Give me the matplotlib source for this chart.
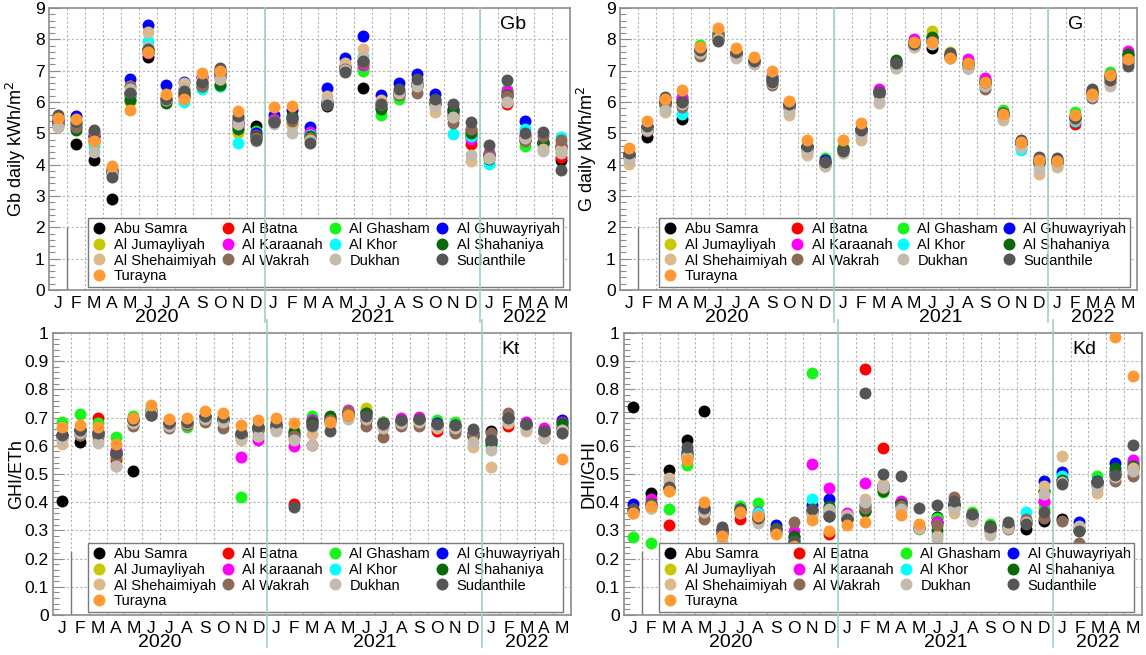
import numpy as np
import matplotlib
matplotlib.use('Agg')
import matplotlib.pyplot as plt
from matplotlib import transforms

nan = float('nan')

stations = ['Abu Samra', 'Al Batna', 'Al Ghasham', 'Al Ghuwayriyah', 'Al Jumayliyah',
            'Al Karaanah', 'Al Khor', 'Al Shahaniya', 'Al Shehaimiyah', 'Al Wakrah',
            'Dukhan', 'Sudanthile', 'Turayna']
colors = ['#000000', '#ff0000', '#18f518', '#0000ff', '#c8c800', '#ff00ff', '#00ffff',
          '#0a6a0a', '#deb887', '#8b6a58', '#c4bbae', '#555555', '#ff9933']

month_labels = ['J', 'F', 'M', 'A', 'M', 'J', 'J', 'A', 'S', 'O', 'N', 'D'] * 2 + ['J', 'F', 'M', 'A', 'M']
year_labels = ['2020', '2021', '2022']
year_centers = [5.5, 17.5, 26.0]
year_bounds = [11.5, 23.5]

# rows = months Jan 2020 .. May 2022, columns = stations (order above)
gb_by_month = [
    [5.4, 5.35, 5.3, 5.5, 5.3, 5.35, 5.3, 5.3, 5.2, 5.4, 5.2, 5.6, 5.5],
    [4.65, 5.3, 5.2, 5.55, 5.25, 5.3, 5.3, 5.1, 5.3, 5.2, 5.35, 5.35, 5.45],
    [4.15, 4.9, 4.7, 4.9, 4.75, 4.95, 4.6, 4.8, 4.75, 5.05, 4.42, 5.1, 4.75],
    [2.9, 3.8, 3.8, 3.85, 3.8, 3.8, 3.75, 3.75, 3.85, 3.8, 3.7, 3.6, 3.95],
    [6.3, 6.2, 6.1, 6.75, 6.0, 6.3, 6.2, 6.05, 6.5, 6.5, 6.4, 6.3, 5.75],
    [7.45, 7.6, 7.65, 8.45, 7.7, 7.55, 7.95, 7.7, 8.25, 7.6, 7.75, 7.7, 7.6],
    [6.1, 6.1, 6.0, 6.55, 6.1, 6.1, 6.1, 5.98, 6.2, 6.1, 6.05, 6.1, 6.25],
    [6.3, 6.2, 6.2, 6.65, 6.3, 6.2, 6.0, 6.3, 6.6, 6.4, 6.4, 6.35, 6.1],
    [6.6, 6.6, 6.45, 6.8, 6.6, 6.8, 6.4, 6.5, 6.7, 6.5, 6.7, 6.65, 6.92],
    [6.9, 6.8, 6.5, 7.0, 6.6, 6.8, 6.5, 6.55, 6.75, 6.9, 6.75, 7.1, 7.0],
    [5.3, 5.2, 5.1, 5.4, 5.0, 5.3, 4.7, 5.15, 5.45, 5.5, 5.3, 5.55, 5.7],
    [5.23, 4.9, 5.07, 5.0, 4.9, 4.95, 4.85, 4.9, 4.8, 4.85, 4.74, 4.8, nan],
    [5.4, 5.4, 5.4, 5.6, 5.4, 5.45, 5.4, 5.4, 5.35, 5.4, 5.3, 5.35, 5.85],
    [5.5, 5.5, 5.5, 5.75, 5.3, 5.5, 5.5, 5.55, 5.25, 5.4, 5.0, 5.5, 5.87],
    [4.9, 4.95, 4.95, 5.2, 4.9, 5.04, 4.95, 4.9, 4.8, 4.85, 4.8, 4.69, nan],
    [5.86, 5.95, 6.0, 6.46, 6.05, 6.0, 6.0, 5.95, 6.2, 6.0, 6.05, 5.92, nan],
    [7.05, 7.1, 7.14, 7.42, 7.1, 7.14, 7.1, 7.1, 7.25, 7.05, 7.03, 6.96, nan],
    [6.46, 7.1, 7.0, 8.1, 7.3, 7.18, 7.47, 7.31, 7.69, 7.25, 7.4, 7.3, nan],
    [5.85, 5.8, 5.58, 6.22, 5.9, 5.9, 5.85, 5.78, 6.05, 5.94, 5.95, 5.95, nan],
    [6.3, 6.2, 6.11, 6.6, 6.3, 6.3, 6.25, 6.3, 6.35, 6.22, 6.3, 6.43, nan],
    [6.6, 6.55, 6.5, 6.9, 6.54, 6.6, 6.5, 6.5, 6.6, 6.3, 6.5, 6.74, nan],
    [6.0, 6.0, 6.0, 6.25, 6.0, 6.05, 6.0, 5.95, 5.67, 5.95, 5.83, 6.11, nan],
    [5.78, 5.5, 5.6, 5.7, 5.6, 5.62, 4.99, 5.72, 5.5, 5.34, 5.51, 5.94, nan],
    [4.9, 4.67, 5.0, 5.1, 4.9, 4.82, 4.9, 5.0, 4.12, 5.13, 4.31, 5.37, nan],
    [4.3, 4.3, 4.36, 4.3, 4.3, 4.36, 4.03, 4.17, 4.2, 4.3, 4.2, 4.63, nan],
    [6.2, 5.94, 6.43, 6.3, 6.3, 6.35, 6.2, 6.22, 6.1, 6.2, 6.0, 6.71, nan],
    [4.8, 4.9, 4.58, 5.38, 4.85, 4.9, 5.15, 4.8, 4.8, 4.74, 4.85, 5.02, nan],
    [4.7, 4.7, 4.65, 4.71, 4.7, 4.75, 4.58, 4.7, 4.5, 4.91, 4.45, 5.04, nan],
    [4.14, 4.25, 4.4, 4.6, 4.7, 4.6, 4.89, 4.53, 4.5, 4.8, 4.36, 3.84, nan],
]

g_by_month = [
    [4.3, 4.3, 4.35, 4.35, 4.3, 4.3, 4.3, 4.3, 4.03, 4.25, 4.15, 4.36, 4.53],
    [4.89, 5.2, 5.2, 5.25, 5.15, 5.2, 5.15, 5.15, 5.1, 5.07, 5.1, 5.23, 5.4],
    [6.0, 6.0, 5.9, 6.0, 5.9, 6.1, 5.85, 5.95, 5.67, 5.94, 5.75, 6.17, 6.1],
    [5.47, 6.0, 6.1, 6.1, 6.1, 6.16, 5.62, 6.0, 5.9, 5.83, 5.95, 6.0, 6.38],
    [7.6, 7.65, 7.82, 7.7, 7.6, 7.65, 7.6, 7.65, 7.5, 7.47, 7.55, 7.65, 7.74],
    [8.0, 8.1, 8.25, 8.2, 8.2, 8.15, 8.1, 8.1, 8.05, 8.0, 8.0, 7.96, 8.36],
    [7.55, 7.55, 7.6, 7.6, 7.6, 7.55, 7.5, 7.55, 7.45, 7.5, 7.42, 7.58, 7.71],
    [7.3, 7.3, 7.35, 7.35, 7.35, 7.3, 7.3, 7.3, 7.2, 7.25, 7.2, 7.3, 7.44],
    [6.7, 6.75, 6.8, 6.8, 6.75, 6.82, 6.7, 6.7, 6.6, 6.54, 6.6, 6.63, 6.98],
    [5.83, 5.9, 5.95, 5.95, 5.9, 5.9, 5.85, 5.9, 5.6, 5.8, 5.67, 5.95, 6.02],
    [4.55, 4.55, 4.6, 4.6, 4.5, 4.55, 4.5, 4.55, 4.31, 4.45, 4.4, 4.58, 4.78],
    [4.1, 4.1, 4.2, 4.15, 4.1, 4.1, 4.05, 4.1, 3.96, 4.0, 3.96, 4.09, nan],
    [4.5, 4.5, 4.55, 4.5, 4.5, 4.5, 4.45, 4.5, 4.36, 4.45, 4.36, 4.45, 4.78],
    [5.1, 5.1, 5.15, 5.15, 5.1, 5.1, 5.05, 5.15, 4.8, 5.0, 4.9, 5.1, 5.32],
    [6.3, 6.3, 6.35, 6.35, 6.3, 6.43, 6.22, 6.3, 5.98, 6.25, 6.0, 6.32, nan],
    [7.2, 7.2, 7.25, 7.3, 7.25, 7.25, 7.2, 7.34, 7.1, 7.15, 7.07, 7.25, nan],
    [7.85, 7.85, 7.9, 7.9, 7.9, 8.02, 7.85, 7.9, 7.75, 7.8, 7.74, 7.85, 7.91],
    [7.71, 8.0, 8.1, 8.05, 8.27, 8.05, 8.0, 8.09, 7.9, 7.9, 7.85, 7.95, 7.91],
    [7.45, 7.45, 7.5, 7.5, 7.61, 7.5, 7.45, 7.5, 7.4, 7.45, 7.4, 7.55, 7.39],
    [7.2, 7.2, 7.25, 7.25, 7.25, 7.36, 7.2, 7.25, 7.1, 7.07, 7.1, 7.25, 7.25],
    [6.6, 6.65, 6.7, 6.7, 6.7, 6.78, 6.6, 6.65, 6.5, 6.43, 6.5, 6.65, 6.63],
    [5.6, 5.6, 5.75, 5.65, 5.65, 5.65, 5.6, 5.65, 5.43, 5.55, 5.5, 5.65, 5.62],
    [4.7, 4.7, 4.75, 4.75, 4.7, 4.7, 4.47, 4.7, 4.55, 4.65, 4.55, 4.8, 4.71],
    [4.1, 4.1, 4.15, 4.15, 4.1, 4.1, 4.0, 4.1, 3.71, 4.05, 3.87, 4.25, 4.14],
    [4.1, 4.1, 4.15, 4.15, 4.1, 4.1, 4.05, 4.1, 3.93, 4.05, 4.0, 4.2, 4.12],
    [5.5, 5.29, 5.69, 5.55, 5.5, 5.5, 5.4, 5.5, 5.45, 5.45, 5.45, 5.5, 5.58],
    [6.3, 6.3, 6.35, 6.35, 6.3, 6.3, 6.25, 6.3, 6.2, 6.13, 6.2, 6.41, 6.24],
    [6.8, 6.8, 6.96, 6.85, 6.85, 6.85, 6.8, 6.8, 6.6, 6.65, 6.52, 6.71, 6.87],
    [7.3, 7.4, 7.5, 7.5, 7.45, 7.63, 7.4, 7.52, 7.3, 7.25, 7.3, 7.14, 7.36],
]

kt_by_month = [
    [0.405, 0.64, 0.686, 0.64, 0.63, 0.64, 0.63, 0.64, 0.607, 0.63, 0.62, 0.639, 0.666],
    [0.612, 0.655, 0.712, 0.66, 0.65, 0.655, 0.65, 0.655, 0.64, 0.64, 0.645, 0.655, 0.675],
    [0.64, 0.70, 0.68, 0.65, 0.645, 0.65, 0.64, 0.645, 0.62, 0.635, 0.61, 0.645, 0.666],
    [0.57, 0.55, 0.631, 0.58, 0.575, 0.583, 0.527, 0.57, 0.53, 0.56, 0.527, 0.576, 0.607],
    [0.512, 0.695, 0.704, 0.695, 0.69, 0.69, 0.69, 0.69, 0.675, 0.671, 0.68, 0.69, 0.698],
    [0.71, 0.72, 0.73, 0.725, 0.725, 0.72, 0.72, 0.725, 0.72, 0.715, 0.72, 0.71, 0.745],
    [0.675, 0.68, 0.68, 0.68, 0.68, 0.68, 0.675, 0.68, 0.67, 0.663, 0.67, 0.68, 0.695],
    [0.68, 0.68, 0.666, 0.685, 0.68, 0.68, 0.68, 0.68, 0.675, 0.675, 0.68, 0.685, 0.70],
    [0.70, 0.70, 0.705, 0.705, 0.70, 0.705, 0.70, 0.70, 0.69, 0.683, 0.695, 0.704, 0.722],
    [0.69, 0.69, 0.69, 0.695, 0.69, 0.69, 0.69, 0.69, 0.68, 0.663, 0.685, 0.702, 0.716],
    [0.64, 0.64, 0.418, 0.645, 0.64, 0.56, 0.635, 0.64, 0.62, 0.635, 0.624, 0.647, 0.675],
    [0.665, 0.66, 0.651, 0.665, 0.66, 0.621, 0.66, 0.66, 0.635, 0.655, 0.633, 0.671, 0.692],
    [0.675, 0.67, 0.671, 0.675, 0.67, 0.67, 0.67, 0.67, 0.655, 0.665, 0.654, 0.683, 0.697],
    [0.64, 0.394, 0.64, 0.645, 0.64, 0.601, 0.635, 0.651, 0.625, 0.635, 0.621, 0.382, 0.68],
    [0.68, 0.604, 0.704, 0.69, 0.685, 0.69, 0.668, 0.685, 0.643, 0.67, 0.604, 0.675, nan],
    [0.69, 0.69, 0.702, 0.70, 0.695, 0.695, 0.69, 0.704, 0.685, 0.69, 0.678, 0.651, 0.686],
    [0.71, 0.715, 0.72, 0.72, 0.72, 0.728, 0.715, 0.72, 0.705, 0.722, 0.696, 0.71, 0.71],
    [0.692, 0.71, 0.725, 0.72, 0.734, 0.715, 0.71, 0.716, 0.70, 0.671, 0.695, 0.704, nan],
    [0.68, 0.68, 0.68, 0.685, 0.686, 0.68, 0.68, 0.68, 0.665, 0.631, 0.663, 0.678, nan],
    [0.68, 0.68, 0.69, 0.69, 0.69, 0.698, 0.685, 0.685, 0.675, 0.671, 0.68, 0.69, nan],
    [0.69, 0.69, 0.695, 0.695, 0.69, 0.702, 0.69, 0.69, 0.68, 0.669, 0.685, 0.695, nan],
    [0.675, 0.651, 0.692, 0.68, 0.675, 0.675, 0.675, 0.675, 0.663, 0.67, 0.668, 0.678, nan],
    [0.67, 0.655, 0.683, 0.675, 0.67, 0.67, 0.67, 0.67, 0.66, 0.645, 0.663, 0.675, nan],
    [0.64, 0.64, 0.645, 0.645, 0.64, 0.645, 0.64, 0.631, 0.595, 0.64, 0.615, 0.659, nan],
    [0.654, 0.62, 0.604, 0.62, 0.62, 0.62, 0.61, 0.61, 0.524, 0.645, 0.586, 0.619, nan],
    [0.70, 0.669, 0.705, 0.70, 0.70, 0.70, 0.69, 0.70, 0.68, 0.716, 0.69, 0.698, nan],
    [0.675, 0.675, 0.68, 0.68, 0.675, 0.686, 0.675, 0.675, 0.654, 0.67, 0.66, 0.678, nan],
    [0.65, 0.65, 0.66, 0.655, 0.65, 0.663, 0.65, 0.65, 0.627, 0.645, 0.627, 0.653, nan],
    [0.665, 0.665, 0.675, 0.69, 0.67, 0.685, 0.675, 0.68, 0.647, 0.655, 0.655, 0.647, 0.553],
]

kd_by_month = [
    [0.736, 0.37, 0.277, 0.393, 0.36, 0.375, 0.37, 0.37, 0.36, 0.375, 0.365, 0.375, 0.361],
    [0.432, 0.39, 0.254, 0.395, 0.38, 0.41, 0.38, 0.385, 0.38, 0.39, 0.385, 0.396, 0.387],
    [0.514, 0.319, 0.377, 0.45, 0.44, 0.455, 0.45, 0.45, 0.485, 0.455, 0.47, 0.455, 0.44],
    [0.621, 0.56, 0.532, 0.58, 0.57, 0.575, 0.57, 0.57, 0.56, 0.565, 0.56, 0.595, 0.548],
    [0.725, 0.37, 0.37, 0.38, 0.36, 0.37, 0.37, 0.36, 0.36, 0.339, 0.365, 0.381, 0.399],
    [0.30, 0.30, 0.30, 0.30, 0.29, 0.30, 0.29, 0.29, 0.25, 0.29, 0.258, 0.313, 0.28],
    [0.37, 0.339, 0.385, 0.375, 0.37, 0.37, 0.37, 0.375, 0.365, 0.37, 0.36, 0.375, 0.365],
    [0.345, 0.345, 0.396, 0.355, 0.34, 0.365, 0.36, 0.345, 0.33, 0.34, 0.327, 0.345, 0.351],
    [0.30, 0.30, 0.305, 0.319, 0.30, 0.30, 0.30, 0.31, 0.29, 0.295, 0.29, 0.305, 0.286],
    [0.26, 0.255, 0.27, 0.275, 0.26, 0.298, 0.27, 0.28, 0.255, 0.33, 0.26, 0.262, 0.246],
    [0.37, 0.36, 0.857, 0.39, 0.37, 0.536, 0.411, 0.37, 0.36, 0.37, 0.365, 0.375, 0.336],
    [0.35, 0.286, 0.38, 0.411, 0.37, 0.449, 0.38, 0.387, 0.37, 0.36, 0.375, 0.351, 0.298],
    [0.34, 0.34, 0.34, 0.345, 0.34, 0.361, 0.34, 0.34, 0.355, 0.34, 0.35, 0.339, 0.318],
    [0.37, 0.873, 0.37, 0.39, 0.38, 0.467, 0.39, 0.369, 0.411, 0.38, 0.40, 0.789, 0.331],
    [0.45, 0.592, 0.435, 0.46, 0.46, 0.46, 0.449, 0.44, 0.464, 0.45, 0.455, 0.50, nan],
    [0.40, 0.39, 0.39, 0.40, 0.39, 0.405, 0.39, 0.395, 0.38, 0.385, 0.377, 0.494, 0.354],
    [0.31, 0.31, 0.31, 0.31, 0.306, 0.31, 0.31, 0.31, 0.31, 0.31, 0.31, 0.379, 0.321],
    [0.349, 0.33, 0.345, 0.33, 0.32, 0.33, 0.286, 0.301, 0.28, 0.32, 0.27, 0.389, nan],
    [0.39, 0.39, 0.39, 0.395, 0.38, 0.39, 0.38, 0.395, 0.361, 0.42, 0.375, 0.405, nan],
    [0.355, 0.355, 0.365, 0.355, 0.35, 0.35, 0.35, 0.35, 0.34, 0.345, 0.332, 0.357, nan],
    [0.31, 0.31, 0.324, 0.31, 0.30, 0.305, 0.30, 0.315, 0.29, 0.30, 0.283, 0.313, nan],
    [0.315, 0.315, 0.32, 0.315, 0.31, 0.315, 0.315, 0.315, 0.31, 0.306, 0.31, 0.33, nan],
    [0.306, 0.33, 0.33, 0.33, 0.33, 0.335, 0.367, 0.33, 0.33, 0.342, 0.33, 0.321, nan],
    [0.333, 0.40, 0.381, 0.475, 0.44, 0.405, 0.44, 0.44, 0.458, 0.345, 0.429, 0.365, nan],
    [0.339, 0.48, 0.48, 0.506, 0.48, 0.48, 0.492, 0.48, 0.565, 0.335, 0.47, 0.464, nan],
    [0.30, 0.31, 0.31, 0.33, 0.31, 0.31, 0.31, 0.30, 0.31, 0.256, 0.315, 0.298, nan],
    [0.47, 0.47, 0.494, 0.475, 0.46, 0.47, 0.47, 0.47, 0.432, 0.46, 0.449, 0.47, nan],
    [0.50, 0.50, 0.51, 0.539, 0.50, 0.51, 0.50, 0.52, 0.49, 0.474, 0.49, 0.496, 0.986],
    [0.52, 0.52, 0.53, 0.54, 0.52, 0.548, 0.51, 0.53, 0.52, 0.492, 0.51, 0.604, 0.849],
]

plt.rcParams['font.family'] = ['Liberation Sans', 'DejaVu Sans']

W, H = 1146, 655
fig = plt.figure(figsize=(W / 100, H / 100), dpi=100)


def px_axes(l, t, r, b):
    return fig.add_axes([l / W, 1 - b / H, (r - l) / W, (b - t) / H])


panels = [
    dict(rect=(49, 8, 570, 290), data=gb_by_month, ylabel='Gb daily kWh/m$^2$', tag='Gb',
         ymax=9, major=1.0, minor=0.2, fmt='{:.0f}', ylab_x=-0.040,
         leg=(0.075, 0.011, 0.912, 0.209)),
    dict(rect=(620, 8, 1137, 290), data=g_by_month, ylabel='G daily kWh/m$^2$', tag='G',
         ymax=9, major=1.0, minor=0.2, fmt='{:.0f}', ylab_x=-0.041,
         leg=(0.076, 0.011, 0.910, 0.209)),
    dict(rect=(53, 333, 571, 615), data=kt_by_month, ylabel='GHI/ETh', tag='Kt',
         ymax=1, major=0.1, minor=0.02, fmt='{:g}', ylab_x=-0.053,
         leg=(0.068, 0.011, 0.917, 0.212)),
    dict(rect=(624, 333, 1142, 615), data=kd_by_month, ylabel='DHI/GHI', tag='Kd',
         ymax=1, major=0.1, minor=0.02, fmt='{:g}', ylab_x=-0.051,
         leg=(0.068, 0.011, 0.917, 0.212)),
]

frame_col = '#8c8c8c'
grid_col = '#b4b4b4'
year_col = '#9fd3bb'
months = np.arange(len(month_labels))
leg_order = [0, 4, 8, 12, 1, 5, 9, 2, 6, 10, 3, 7, 11]

for i, p in enumerate(panels):
    ax = px_axes(*p['rect'])
    vals = np.array(p['data'], dtype=float).T
    ax.set_xlim(-0.5, len(month_labels) - 0.5)
    ax.set_ylim(0, p['ymax'])

    # grid
    for xb in np.arange(0.5, len(month_labels) - 1, 1.0):
        ax.axvline(xb, color=grid_col, lw=0.8, ls=(0, (2, 2)), zorder=0.5)
    yt = np.round(np.arange(0, p['ymax'] + 1e-9, p['major']), 3)
    for yv in yt[1:-1]:
        ax.axhline(yv, color=grid_col, lw=0.8, ls=(0, (2, 2)), zorder=0.5)

    # year boundary lines (extend below axis, drawn over legend)
    top = 1.0 if i < 2 else 1.046
    for xb in year_bounds:
        ax.plot([xb, xb], [top, -0.115], transform=ax.get_xaxis_transform(),
                color=year_col, lw=1.2, clip_on=False, zorder=12)
    # short solid line at first month boundary (below legend top)
    ax.plot([0.5, 0.5], [0, p['leg'][1] + p['leg'][3]], transform=ax.get_xaxis_transform(),
            color='#7a7a7a', lw=1.0, zorder=1)

    handles = []
    for s, name in enumerate(stations):
        h, = ax.plot(months, vals[s], ls='none', marker='o', ms=8.6, mfc=colors[s],
                     mec=colors[s], mew=0, label=name, zorder=3 + s * 0.01)
        handles.append(h)

    ax.set_xticks(months)
    ax.set_xticklabels(month_labels, fontsize=12.5)
    ax.tick_params(axis='x', length=0, pad=4)
    ax.set_yticks(yt)
    ax.set_yticklabels([p['fmt'].format(v) for v in yt], fontsize=12.5)
    ax.set_yticks(np.round(np.arange(0, p['ymax'] + 1e-9, p['minor']), 3), minor=True)
    ax.tick_params(axis='y', which='major', direction='in', length=8, width=0.8,
                   color=frame_col, pad=3)
    ax.tick_params(axis='y', which='minor', direction='in', length=4, width=0.8,
                   color=frame_col)
    for sp in ax.spines.values():
        sp.set_color(frame_col)
        sp.set_linewidth(1.2)

    ax.set_ylabel(p['ylabel'], fontsize=13)
    ax.yaxis.set_label_coords(p['ylab_x'], 0.5)

    trans = transforms.blended_transform_factory(ax.transData, ax.transAxes)
    for lab, xc in zip(year_labels, year_centers):
        ax.text(xc, -0.096, lab, transform=trans, ha='center', va='center', fontsize=14)

    ax.text(0.866, 0.94, p['tag'], transform=ax.transAxes, ha='left', va='center',
            fontsize=14)

    leg = ax.legend([handles[k] for k in leg_order], [stations[k] for k in leg_order],
                    ncol=4, loc='lower left', bbox_to_anchor=p['leg'], mode='expand',
                    fontsize=10.5, frameon=True, fancybox=False, framealpha=1,
                    edgecolor='#7a7a7a', borderpad=0.25, labelspacing=0.12,
                    handlelength=1.0, handletextpad=0.5, columnspacing=0.5,
                    borderaxespad=0)
    leg.get_frame().set_linewidth(1.0)
    leg.set_zorder(10)

fig.savefig('out.png', dpi=100)
